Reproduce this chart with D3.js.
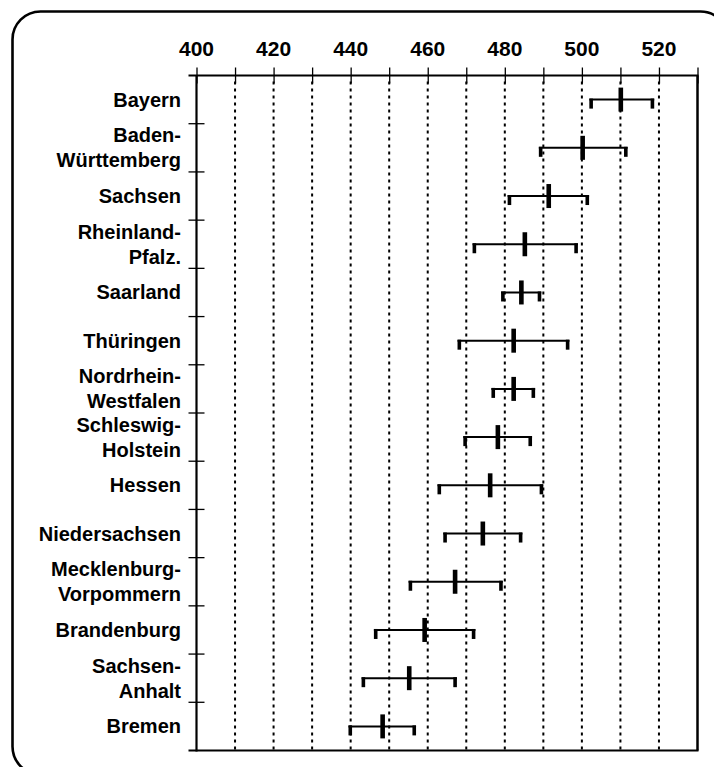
<!DOCTYPE html>
<html>
<head>
<meta charset="utf-8">
<script src="https://cdn.jsdelivr.net/npm/d3@7"></script>
<style>
  html, body { margin: 0; padding: 0; background: #fff; }
  svg { display: block; }
  text { font-family: "Liberation Sans", Arial, sans-serif; font-weight: bold; fill: #000; }
</style>
</head>
<body>
<svg id="chart" width="714" height="767"></svg>
<script>
const states = ["Bayern", "Baden-\nWürttemberg", "Sachsen", "Rheinland-\nPfalz.", "Saarland", "Thüringen",
  "Nordrhein-\nWestfalen", "Schleswig-\nHolstein", "Hessen", "Niedersachsen", "Mecklenburg-\nVorpommern",
  "Brandenburg", "Sachsen-\nAnhalt", "Bremen"];
const means = [510.1, 500.2, 491.4, 485.2, 484.3, 482.3, 482.3, 478.2, 476.2, 474.3, 467.1, 459.2, 455.2, 448.3];
const lower = [502.4, 489.3, 481.2, 472.1, 479.5, 468.2, 477.0, 469.7, 463.0, 464.5, 455.5, 446.5, 443.3, 439.9];
const upper = [518.3, 511.4, 501.4, 498.5, 489.0, 496.3, 487.4, 486.6, 489.5, 484.1, 479.0, 471.9, 467.1, 456.5];
const tickValues = [400, 410, 420, 430, 440, 450, 460, 470, 480, 490, 500, 510, 520, 530];
const tickLabels = [400, 420, 440, 460, 480, 500, 520];

const svg = d3.select("#chart");
const mL = 196.5, mR = 697.5, mT = 75.5, mB = 750.5;

const x = d3.scaleLinear().domain([400, 530]).range([mL, mR]);
const y = d3.scaleBand().domain(states).range([mT, mB]).padding(0);

// frame
svg.append("rect").attr("x", 12.5).attr("y", 11.5).attr("width", 716).attr("height", 763)
  .attr("rx", 28).attr("ry", 28).attr("fill", "none").attr("stroke", "#000").attr("stroke-width", 2.6);

// gridlines
svg.append("g").selectAll("line").data(tickValues.filter(v => v > 400 && v < 530)).join("line")
  .attr("x1", d => x(d)).attr("x2", d => x(d)).attr("y1", mT + 6).attr("y2", mB)
  .attr("stroke", "#000").attr("stroke-width", 2).attr("stroke-dasharray", "3,4");

// top axis
const topAxis = d3.axisTop(x).tickValues(tickValues).tickSize(8).tickFormat("");
const gTop = svg.append("g").attr("transform", `translate(0,${mT})`).call(topAxis);
gTop.select(".domain").remove();
gTop.selectAll(".tick line").attr("y2", -8).attr("y1", 8).attr("stroke", "#000").attr("stroke-width", 1.3);
svg.append("line").attr("x1", mL - 8).attr("x2", mR + 1).attr("y1", mT).attr("y2", mT)
  .attr("stroke", "#000").attr("stroke-width", 2);
svg.append("g").selectAll("text").data(tickLabels).join("text")
  .attr("x", d => x(d)).attr("y", 56).attr("text-anchor", "middle")
  .style("font-size", "21px").text(d => d);

// left axis, bottom, right border
svg.append("line").attr("x1", mL).attr("x2", mL).attr("y1", mT).attr("y2", mB + 1)
  .attr("stroke", "#000").attr("stroke-width", 2.2);
svg.append("line").attr("x1", mL - 8).attr("x2", mR + 1).attr("y1", mB).attr("y2", mB)
  .attr("stroke", "#000").attr("stroke-width", 2.2);
svg.append("line").attr("x1", mR).attr("x2", mR).attr("y1", mT).attr("y2", mB)
  .attr("stroke", "#000").attr("stroke-width", 2.5);
svg.append("g").selectAll("line").data(states.slice(1)).join("line")
  .attr("x1", mL - 8).attr("x2", mL + 8).attr("y1", d => y(d)).attr("y2", d => y(d))
  .attr("stroke", "#000").attr("stroke-width", 1.3);

// category labels
const lab = svg.append("g");
states.forEach(s => {
  const lines = s.split("\n");
  const cy = y(s) + y.bandwidth() / 2;
  const lh = 25;
  const t = lab.append("text").attr("text-anchor", "end").style("font-size", "20px");
  lines.forEach((ln, i) => {
    t.append("tspan").attr("x", 181)
      .attr("y", cy + 7 + (i - (lines.length - 1) / 2) * lh).text(ln);
  });
});

// error bars
const g = svg.append("g");
states.forEach((s, i) => {
  const cy = y(s) + y.bandwidth() / 2;
  g.append("line").attr("x1", x(lower[i]) - 1.8).attr("x2", x(upper[i]) + 1.8)
    .attr("y1", cy).attr("y2", cy).attr("stroke", "#000").attr("stroke-width", 2);
  [lower[i], upper[i]].forEach(v => {
    g.append("rect").attr("x", x(v) - 1.8).attr("y", cy - 1).attr("width", 3.6).attr("height", 10).attr("fill", "#000");
  });
  g.append("rect").attr("x", x(means[i]) - 2.3).attr("y", cy - 12).attr("width", 4.6).attr("height", 24).attr("fill", "#000");
});
</script>
</body>
</html>
